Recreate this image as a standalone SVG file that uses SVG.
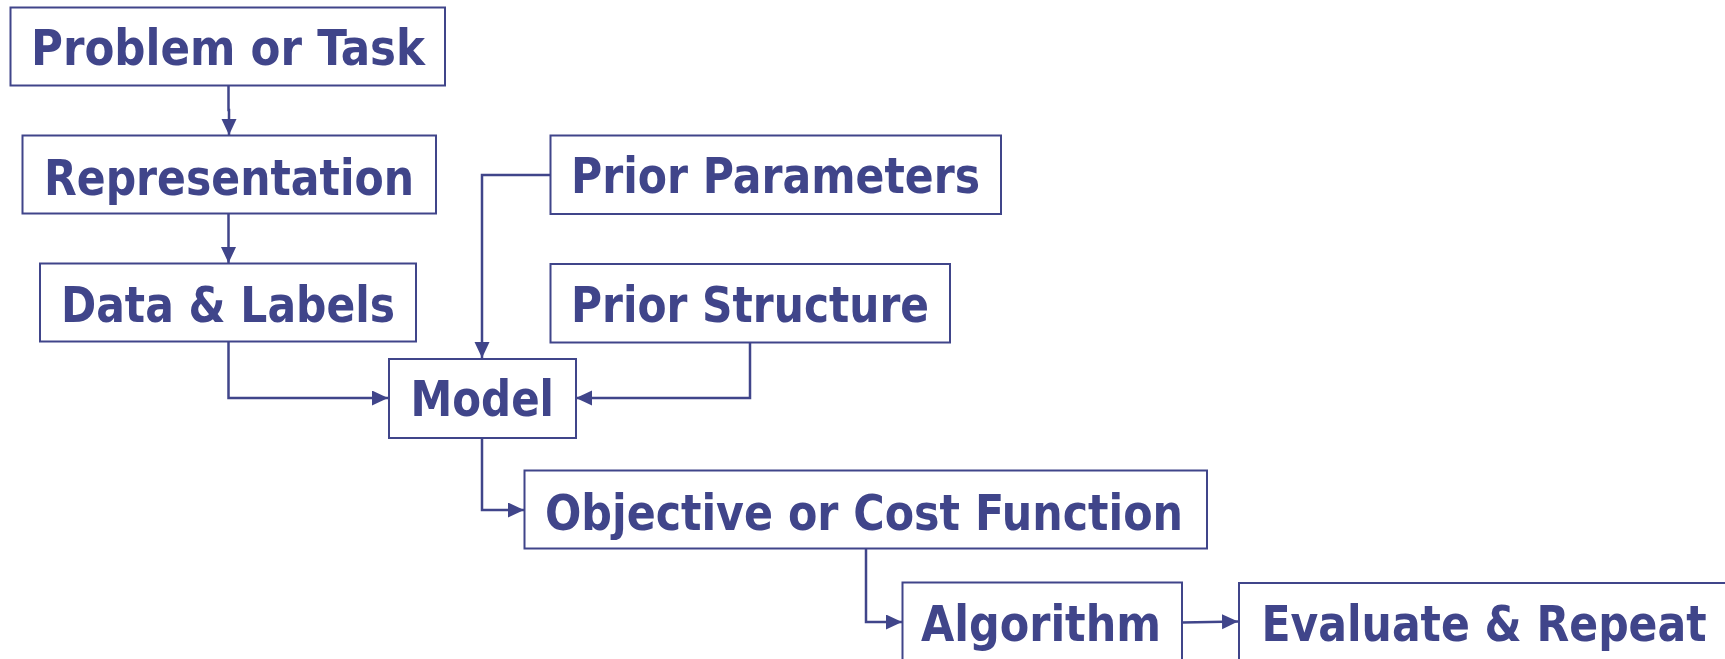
<svg xmlns="http://www.w3.org/2000/svg" width="1725" height="659" viewBox="0 0 1725 659">
<style>
.box{fill:#ffffff;stroke:#40458a;stroke-width:2}
.lbl{font-family:"DejaVu Sans Condensed","DejaVu Sans","Liberation Sans",sans-serif;font-weight:bold;font-size:50px;fill:#40458a}
.con{fill:none;stroke:#40458a;stroke-width:2.5}
</style>
<defs>
<marker id="ah" markerUnits="userSpaceOnUse" markerWidth="16" markerHeight="16" refX="16" refY="7.5" orient="auto">
<path d="M0,0 L16,7.5 L0,15 z" fill="#40458a"/>
</marker>
</defs>
<rect width="1725" height="659" fill="#ffffff"/>
<g id="connectors">
<path class="con" d="M228.5,86 V110 H229 V135" marker-end="url(#ah)"/>
<path class="con" d="M228.5,214 V263" marker-end="url(#ah)"/>
<path class="con" d="M228.5,342 V398 H388" marker-end="url(#ah)"/>
<path class="con" d="M550,175 H482 V358" marker-end="url(#ah)"/>
<path class="con" d="M750,343 V398 H576" marker-end="url(#ah)"/>
<path class="con" d="M482,438 V510 H524" marker-end="url(#ah)"/>
<path class="con" d="M866,548 V622 H902" marker-end="url(#ah)"/>
<path class="con" d="M1182,622.5 L1238,621.5" marker-end="url(#ah)"/>
</g>
<g id="problem">
<rect class="box" x="10.5" y="7.5" width="434.5" height="78"/>
<text class="lbl" x="31" y="65" textLength="394" lengthAdjust="spacingAndGlyphs">Problem or Task</text>
</g>
<g id="representation">
<rect class="box" x="22.5" y="135.5" width="413.5" height="78"/>
<text class="lbl" x="44" y="195" textLength="370" lengthAdjust="spacingAndGlyphs">Representation</text>
</g>
<g id="data">
<rect class="box" x="40" y="263.5" width="376" height="78"/>
<text class="lbl" x="61" y="321.7" textLength="334" lengthAdjust="spacingAndGlyphs">Data &amp; Labels</text>
</g>
<g id="priorparams">
<rect class="box" x="550.5" y="135.5" width="450.5" height="78.5"/>
<text class="lbl" x="571" y="193.3" textLength="409" lengthAdjust="spacingAndGlyphs">Prior Parameters</text>
</g>
<g id="priorstruct">
<rect class="box" x="550.5" y="264" width="399.5" height="78.5"/>
<text class="lbl" x="571" y="321.7" textLength="358" lengthAdjust="spacingAndGlyphs">Prior Structure</text>
</g>
<g id="model">
<rect class="box" x="389" y="359" width="187" height="79"/>
<text class="lbl" x="410.5" y="415.7" textLength="143.5" lengthAdjust="spacingAndGlyphs">Model</text>
</g>
<g id="objective">
<rect class="box" x="524.5" y="470.5" width="682.5" height="78"/>
<text class="lbl" x="545" y="530" textLength="638" lengthAdjust="spacingAndGlyphs">Objective or Cost Function</text>
</g>
<g id="algorithm">
<rect class="box" x="902.5" y="582.5" width="279.5" height="100"/>
<text class="lbl" x="921" y="640.7" textLength="240" lengthAdjust="spacingAndGlyphs">Algorithm</text>
</g>
<g id="evaluate">
<rect class="box" x="1239" y="583" width="500" height="100"/>
<text class="lbl" x="1261.5" y="640.5" textLength="445" lengthAdjust="spacingAndGlyphs">Evaluate &amp; Repeat</text>
</g>
</svg>
